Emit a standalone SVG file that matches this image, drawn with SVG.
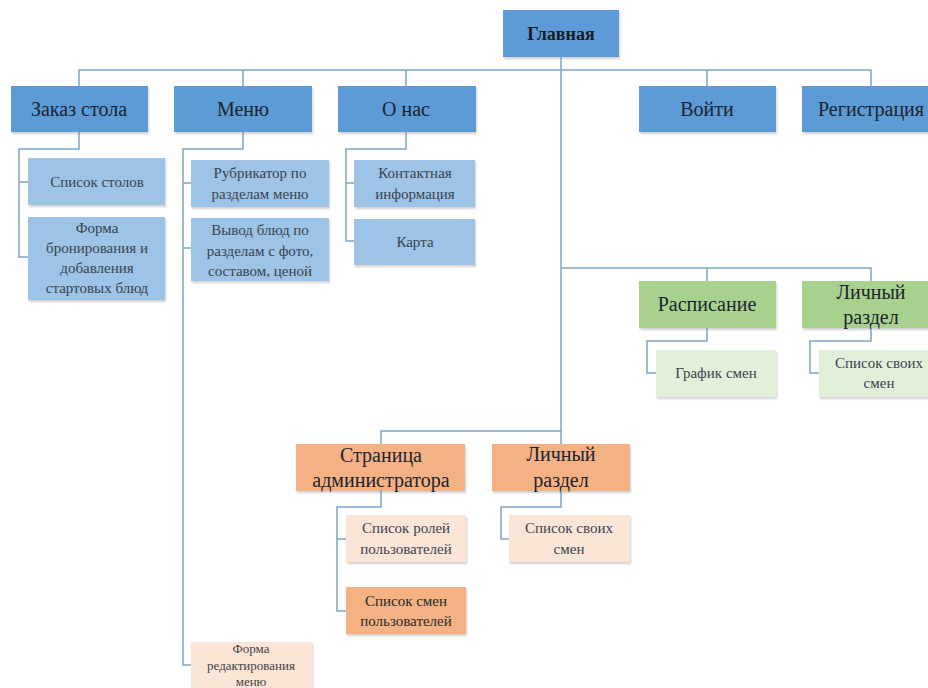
<svg xmlns="http://www.w3.org/2000/svg" width="928" height="688" viewBox="0 0 928 688" font-family="Liberation Serif, Times New Roman, serif">
  <defs>
    <filter id="sh" x="-10%" y="-10%" width="125%" height="130%">
      <feDropShadow dx="1" dy="2" stdDeviation="1.2" flood-color="#7a7a7a" flood-opacity="0.35"/>
    </filter>
  </defs>
  <style>
    text { text-anchor: middle; }
    .b1 { fill: #5B9BD5; filter: url(#sh); }
    .b2 { fill: #9DC3E6; filter: url(#sh); }
    .g1 { fill: #A9D18E; filter: url(#sh); }
    .g2 { fill: #E2F0D9; filter: url(#sh); }
    .o1 { fill: #F4B183; filter: url(#sh); }
    .o2 { fill: #FBE5D6; filter: url(#sh); }
    .t1 { font-size: 20px; fill: #1b2430; }
    .tb { font-size: 18px; font-weight: bold; fill: #141b24; }
    .t2 { font-size: 15px; fill: #3a4350; }
    .t3 { font-size: 13px; fill: #444; }
    .c { fill: none; stroke: #7FA6C2; stroke-width: 1.5; }
  </style>

  <!-- tree connectors -->
  <g id="connectors">
    <path class="c" d="M561 57 V431"/>
    <path class="c" d="M79 86 V70 H871 V86"/>
    <path class="c" d="M243 70 V86 M406 70 V86 M707 70 V86"/>
    <path class="c" d="M79 132 V149 H19 V257 H28 M19 182 H28"/>
    <path class="c" d="M243 132 V149 H183 V665 H191 M183 183 H191 M183 248 H191"/>
    <path class="c" d="M406 132 V149 H346 V241 H354 M346 183 H354"/>
    <path class="c" d="M561 268 H871 V281 M707 268 V281"/>
    <path class="c" d="M707 328 V341 H647 V373 H656"/>
    <path class="c" d="M871 328 V341 H810 V373 H819"/>
    <path class="c" d="M381 444 V431 H561 V444"/>
    <path class="c" d="M381 491 V507 H337 V611 H346 M337 539 H346"/>
    <path class="c" d="M561 491 V507 H501 V539 H509"/>
  </g>

  <g id="glavnaya">
    <rect class="b1" x="503" y="10" width="116" height="47"/>
    <text class="tb" x="561" y="40">Главная</text>
  </g>

  <g id="zakaz">
    <rect class="b1" x="11" y="86" width="137" height="46"/>
    <text class="t1" x="79" y="116">Заказ стола</text>
  </g>
  <g id="spisok-stolov">
    <rect class="b2" x="28" y="158" width="137" height="47"/>
    <text class="t2" x="97" y="187">Список столов</text>
  </g>
  <g id="forma-bron">
    <rect class="b2" x="28" y="217" width="137" height="83"/>
    <text class="t2" x="97" y="233">Форма</text>
    <text class="t2" x="97" y="253">бронирования и</text>
    <text class="t2" x="97" y="273">добавления</text>
    <text class="t2" x="97" y="293">стартовых блюд</text>
  </g>

  <g id="menu">
    <rect class="b1" x="174" y="86" width="138" height="46"/>
    <text class="t1" x="243" y="116">Меню</text>
  </g>
  <g id="rubrikator">
    <rect class="b2" x="191" y="160" width="138" height="47"/>
    <text class="t2" x="260" y="178">Рубрикатор по</text>
    <text class="t2" x="260" y="199">разделам меню</text>
  </g>
  <g id="vyvod">
    <rect class="b2" x="191" y="218" width="138" height="63"/>
    <text class="t2" x="260" y="235">Вывод блюд по</text>
    <text class="t2" x="260" y="256">разделам с фото,</text>
    <text class="t2" x="260" y="276">составом, ценой</text>
  </g>
  <g id="forma-red">
    <rect class="o2" x="191" y="642" width="121" height="52"/>
    <text class="t3" x="251" y="653">Форма</text>
    <text class="t3" x="251" y="670">редактирования</text>
    <text class="t3" x="251" y="686">меню</text>
  </g>

  <g id="o-nas">
    <rect class="b1" x="338" y="86" width="138" height="46"/>
    <text class="t1" x="406" y="116">О нас</text>
  </g>
  <g id="kontakt">
    <rect class="b2" x="354" y="160" width="121" height="47"/>
    <text class="t2" x="415" y="178">Контактная</text>
    <text class="t2" x="415" y="199">информация</text>
  </g>
  <g id="karta">
    <rect class="b2" x="354" y="219" width="121" height="46"/>
    <text class="t2" x="415" y="247">Карта</text>
  </g>

  <g id="voiti">
    <rect class="b1" x="639" y="86" width="137" height="46"/>
    <text class="t1" x="707" y="116">Войти</text>
  </g>
  <g id="registr">
    <rect class="b1" x="802" y="86" width="140" height="46"/>
    <text class="t1" x="871" y="116">Регистрация</text>
  </g>

  <g id="raspisanie">
    <rect class="g1" x="639" y="281" width="137" height="47"/>
    <text class="t1" x="707" y="311">Расписание</text>
  </g>
  <g id="grafik">
    <rect class="g2" x="656" y="350" width="120" height="47"/>
    <text class="t2" x="716" y="378">График смен</text>
  </g>
  <g id="lichny-g">
    <rect class="g1" x="802" y="281" width="140" height="47"/>
    <text class="t1" x="871" y="299">Личный</text>
    <text class="t1" x="871" y="324">раздел</text>
  </g>
  <g id="svoi-g">
    <rect class="g2" x="819" y="350" width="121" height="47"/>
    <text class="t2" x="879" y="368">Список своих</text>
    <text class="t2" x="879" y="388">смен</text>
  </g>

  <g id="admin">
    <rect class="o1" x="296" y="444" width="169" height="47"/>
    <text class="t1" x="381" y="462">Страница</text>
    <text class="t1" x="381" y="487">администратора</text>
  </g>
  <g id="roli">
    <rect class="o2" x="346" y="515" width="120" height="47"/>
    <text class="t2" x="406" y="533">Список ролей</text>
    <text class="t2" x="406" y="554">пользователей</text>
  </g>
  <g id="smeny">
    <rect class="o1" x="346" y="587" width="120" height="47"/>
    <text class="t2" x="406" y="606" style="fill:#2a2a2a">Список смен</text>
    <text class="t2" x="406" y="626" style="fill:#2a2a2a">пользователей</text>
  </g>

  <g id="lichny-o">
    <rect class="o1" x="492" y="444" width="138" height="47"/>
    <text class="t1" x="561" y="461">Личный</text>
    <text class="t1" x="561" y="487">раздел</text>
  </g>
  <g id="svoi-o">
    <rect class="o2" x="509" y="515" width="121" height="47"/>
    <text class="t2" x="569" y="533">Список своих</text>
    <text class="t2" x="569" y="554">смен</text>
  </g>
</svg>
